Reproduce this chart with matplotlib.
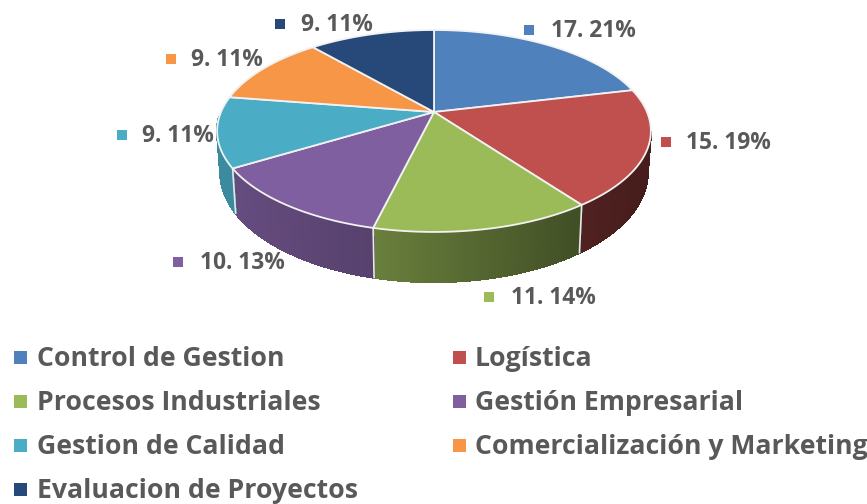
import numpy as np
import matplotlib
matplotlib.use("Agg")
import matplotlib.pyplot as plt
from matplotlib.colors import to_rgb
from matplotlib.patches import Polygon, Rectangle
from matplotlib.collections import PolyCollection

categories = ["Control de Gestion", "Logística", "Procesos Industriales", "Gestión Empresarial",
              "Gestion de Calidad", "Comercialización y Marketing", "Evaluacion de Proyectos"]
counts = [17, 15, 11, 10, 9, 9, 9]
percents = [21, 19, 14, 13, 11, 11, 11]
colors = ["#4f81bd", "#c0504d", "#9bbb59", "#7f5f9f", "#4bacc6", "#f79646", "#26497a"]

# label anchors in pixels: marker x, text x, y
label_pos = [(529, 551, 31), (666, 686, 143), (489, 511, 298), (178, 200, 263),
             (122, 142, 136), (171, 191, 60), (280, 301, 25)]
legend_pos = [(20, 37, 359), (459, 475, 359), (20, 37, 403), (459, 475, 403),
              (20, 37, 447), (459, 475, 447), (20, 37, 491)]

cx, cy = 434, 112
a, b, k = 97.4, 213.0, 0.188
grey = "#595959"
font = "Open Sans"


def top_rim(t):
    # t is clockwise from 12 o'clock, radians, perspective circle
    x, y = np.sin(t), np.cos(t)
    d = 1 + k * y
    return b * x / d, a * y / d


def top_xy(t):
    u, v = top_rim(t)
    return cx + u, cy - v


def bottom_xy(t):
    u, v = top_rim(t)
    return cx + 0.985 * u, cy - (1.085 * v - 39.8)


fig = plt.figure(figsize=(8.67, 5.04), dpi=100)
ax = fig.add_axes([0, 0, 1, 1])
ax.set_xlim(0, 867)
ax.set_ylim(504, 0)
ax.axis("off")

edges = np.cumsum([0] + counts) / sum(counts) * 2 * np.pi

# side wall, only the front part of the pie shows
for i, c in enumerate(colors):
    t0, t1 = edges[i], edges[i + 1]
    lo, hi = max(t0, np.pi / 2 + 0.2), min(t1, 3 * np.pi / 2 - 0.05)
    if lo >= hi:
        continue
    ts = np.linspace(lo, hi, 60)
    xt, yt = top_xy(ts)
    xb, yb = bottom_xy(ts)
    quads = []
    shades = []
    base = np.array(to_rgb(c))
    for j in range(len(ts) - 1):
        quads.append([(xt[j], yt[j]), (xt[j + 1], yt[j + 1]), (xb[j + 1], yb[j + 1]), (xb[j], yb[j])])
        f = np.interp((xt[j] + xt[j + 1]) / 2, [233, 374, 580, 650], [0.80, 0.68, 0.42, 0.36])
        shades.append(base * f)
    ax.add_collection(PolyCollection(quads, facecolors=shades, edgecolors=shades, linewidths=1.0,
                                     antialiaseds=False, zorder=1))
    # seam between wall pieces
    if t0 > np.pi / 2 and t0 < 3 * np.pi / 2:
        xa, ya = top_xy(t0)
        xc, yc = bottom_xy(t0)
        ax.plot([xa, xc], [ya, yc], color="#e8e8e8", lw=1.2, zorder=2)

# top face
for i, c in enumerate(colors):
    ts = np.linspace(edges[i], edges[i + 1], 80)
    xs, ys = top_xy(ts)
    pts = np.column_stack([np.r_[cx, xs], np.r_[cy, ys]])
    ax.add_patch(Polygon(pts, closed=True, facecolor=c, edgecolor="#f2f2f2", lw=1.3, zorder=3))

# data labels
for (mx, tx, y), c, n, p in zip(label_pos, colors, counts, percents):
    ax.add_patch(Rectangle((mx - 5, y - 6), 10, 10, facecolor=c, edgecolor="none", zorder=4))
    ax.text(tx, y, f"{n}. {p}%", family=font, weight="bold", fontsize=16.4, color=grey,
            va="center", ha="left", zorder=5)

# legend
for (mx, tx, y), c, name in zip(legend_pos, colors, categories):
    ax.add_patch(Rectangle((mx - 6.5, y - 8.5), 13, 13, facecolor=c, edgecolor="none", zorder=4))
    ax.text(tx, y, name, family=font, weight="bold", fontsize=19.2, color=grey,
            va="center", ha="left", zorder=5)

fig.savefig("out.png", dpi=100, facecolor="white")
